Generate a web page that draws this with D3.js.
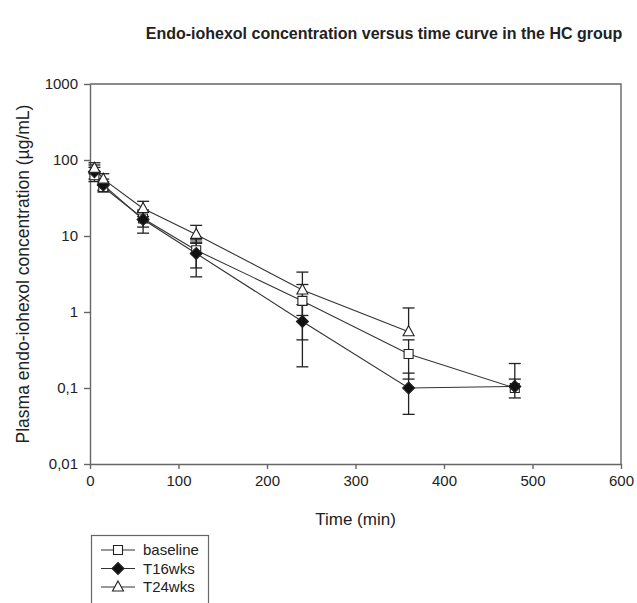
<!DOCTYPE html>
<html>
<head>
<meta charset="utf-8">
<script src="https://cdn.jsdelivr.net/npm/d3@7"></script>
<style>
  body { margin: 0; background: #fff; }
  svg { display: block; font-family: "Liberation Sans", Arial, sans-serif; }
</style>
</head>
<body>
<script>
'use strict';

// sampling times (min)
const times = [5, 15, 60, 120, 240, 360, 480];

// mean plasma concentrations (ug/mL), null = not measured
const baselineMean = [63, 44, 17, 6.5, 1.4, 0.28, 0.10];
const t16Mean = [70, 47, 16.5, 5.9, 0.75, 0.10, 0.105];
const t24Mean = [78, 56, 23, 10.5, 1.95, 0.55, null];

// error bar ends (lower / upper), null = no cap drawn
const baselineLo = [52, 38, 13.1, 3.8, 0.43, 0.131, 0.074];
const baselineHi = [80, 52, 22, 8.9, 2.3, 0.43, 0.131];
const t16Lo = [56, 40, 10.9, 2.9, 0.19, 0.045, null];
const t16Hi = [86, 56, 21, 8.3, 1.25, 0.157, 0.21];
const t24Lo = [66, 47, 18, 8.0, 0.9, null, null];
const t24Hi = [92, 66, 28.6, 13.8, 3.35, 1.13, null];

const seriesNames = ['baseline', 'T16wks', 'T24wks'];
const xTicks = [0, 100, 200, 300, 400, 500, 600];
const yTicks = [0.01, 0.1, 1, 10, 100, 1000];
const yTickLabels = ['0,01', '0,1', '1', '10', '100', '1000'];

(function () {

  let svg = "";
  const plot = { left: 90, right: 621, top: 84, bottom: 464 };
  const axisColor = '#666';
  const lineColor = '#333';

  window.onload = function () {
    svg = d3.select('body')
      .append('svg')
      .attr('width', 637)
      .attr('height', 603);

    let map = drawAxes();

    let series = [
      { name: seriesNames[0], mean: baselineMean, lo: baselineLo, hi: baselineHi, shape: 'square' },
      { name: seriesNames[1], mean: t16Mean, lo: t16Lo, hi: t16Hi, shape: 'diamond' },
      { name: seriesNames[2], mean: t24Mean, lo: t24Lo, hi: t24Hi, shape: 'triangle' }
    ];

    // lines and error bars first, markers on top
    series.forEach((s) => plotLineAndErrors(map, s));
    series.forEach((s) => plotMarkers(map, s));

    makeLabels();
    makeLegend(series);
  }

  // draw the axes, box and ticks
  function drawAxes() {
    let xScale = d3.scaleLinear()
      .domain([0, 600])
      .range([plot.left, plot.right]);

    let yScale = d3.scaleLog()
      .domain([0.01, 1000])
      .range([plot.bottom, plot.top]);

    let xAxis = d3.axisBottom(xScale)
      .tickValues(xTicks)
      .tickSize(5)
      .tickSizeOuter(0)
      .tickPadding(6)
      .tickFormat(d3.format('d'));
    let gx = svg.append('g')
      .attr('transform', 'translate(0, ' + plot.bottom + ')')
      .call(xAxis);

    let yAxis = d3.axisLeft(yScale)
      .tickValues(yTicks)
      .tickSize(6)
      .tickSizeOuter(0)
      .tickPadding(6)
      .tickFormat((d, i) => yTickLabels[i]);
    let gy = svg.append('g')
      .attr('transform', 'translate(' + plot.left + ', 0)')
      .call(yAxis);

    [gx, gy].forEach((g) => {
      g.selectAll('path, line')
        .attr('stroke', axisColor)
        .attr('stroke-width', 1.4);
      g.selectAll('text')
        .attr('fill', '#222')
        .style('font-size', '15px')
        .style('font-family', '"Liberation Sans", Arial, sans-serif');
    });

    // top and right box lines
    svg.append('path')
      .attr('d', 'M' + plot.left + ',' + plot.top + 'H' + plot.right + 'V' + plot.bottom)
      .attr('fill', 'none')
      .attr('stroke', axisColor)
      .attr('stroke-width', 1.4);

    return { x: xScale, y: yScale };
  }

  function plotLineAndErrors(map, s) {
    let pts = times.map((t, i) => ({ t: t, v: s.mean[i], lo: s.lo[i], hi: s.hi[i] }))
      .filter((d) => d.v !== null);

    let line = d3.line()
      .x((d) => map.x(d.t))
      .y((d) => map.y(d.v));

    svg.append('path')
      .datum(pts)
      .attr('fill', 'none')
      .attr('stroke', lineColor)
      .attr('stroke-width', 1.1)
      .attr('d', line);

    let capW = 6;
    let g = svg.append('g')
      .attr('stroke', '#222')
      .attr('stroke-width', 1.3);

    pts.forEach((d) => {
      let x = map.x(d.t);
      let y = map.y(d.v);
      [d.lo, d.hi].forEach((e) => {
        if (e === null) return;
        let ye = map.y(e);
        g.append('line')
          .attr('x1', x).attr('x2', x)
          .attr('y1', y).attr('y2', ye);
        g.append('line')
          .attr('x1', x - capW).attr('x2', x + capW)
          .attr('y1', ye).attr('y2', ye);
      });
    });
  }

  function markerPath(shape) {
    if (shape === 'square') return 'M-4.5,-4.5H4.5V4.5H-4.5Z';
    if (shape === 'diamond') return 'M0,-6L6,0L0,6L-6,0Z';
    return 'M0,-6L5.5,4L-5.5,4Z';
  }

  function drawMarker(g, shape, x, y) {
    g.append('path')
      .attr('d', markerPath(shape))
      .attr('transform', 'translate(' + x + ',' + y + ')')
      .attr('fill', shape === 'diamond' ? '#111' : '#fff')
      .attr('stroke', '#222')
      .attr('stroke-width', 1.1);
  }

  function plotMarkers(map, s) {
    let g = svg.append('g');
    times.forEach((t, i) => {
      if (s.mean[i] === null) return;
      drawMarker(g, s.shape, map.x(t), map.y(s.mean[i]));
    });
  }

  // make title and axes labels
  function makeLabels() {
    svg.append('text')
      .attr('x', 384)
      .attr('y', 39)
      .attr('text-anchor', 'middle')
      .style('font-size', '16px')
      .style('font-weight', 'bold')
      .attr('fill', '#222')
      .text('Endo-iohexol concentration versus time curve in the HC group');

    svg.append('text')
      .attr('x', (plot.left + plot.right) / 2)
      .attr('y', 525)
      .attr('text-anchor', 'middle')
      .style('font-size', '17px')
      .attr('fill', '#222')
      .text('Time (min)');

    svg.append('text')
      .attr('transform', 'translate(29, ' + ((plot.top + plot.bottom) / 2) + ')rotate(-90)')
      .attr('text-anchor', 'middle')
      .style('font-size', '17.5px')
      .attr('fill', '#222')
      .text('Plasma endo-iohexol concentration (\u00b5g/mL)');
  }

  function makeLegend(series) {
    let lg = svg.append('g');
    lg.append('rect')
      .attr('x', 91.5)
      .attr('y', 535.5)
      .attr('width', 117)
      .attr('height', 80)
      .attr('fill', 'none')
      .attr('stroke', axisColor)
      .attr('stroke-width', 1.2);

    series.forEach((s, i) => {
      let y = 550 + i * 18.5;
      lg.append('line')
        .attr('x1', 101).attr('x2', 135)
        .attr('y1', y).attr('y2', y)
        .attr('stroke', lineColor)
        .attr('stroke-width', 1.1);
      drawMarker(lg, s.shape, 118, y);
      lg.append('text')
        .attr('x', 143)
        .attr('y', y + 5)
        .style('font-size', '15px')
        .attr('fill', '#222')
        .text(s.name);
    });
  }

})();
</script>
</body>
</html>
